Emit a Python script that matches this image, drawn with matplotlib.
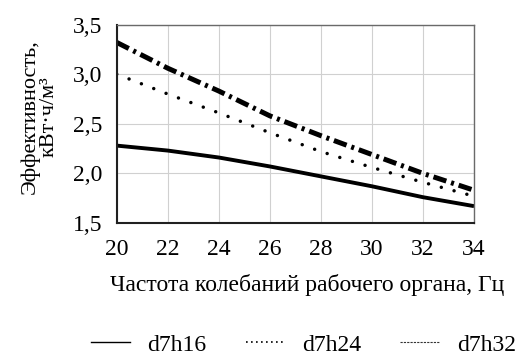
import matplotlib
matplotlib.use("Agg")
import matplotlib.pyplot as plt
from matplotlib.lines import Line2D

plt.rcParams['font.family'] = ['Liberation Serif', 'DejaVu Serif']
SERIF = ['Liberation Serif', 'DejaVu Serif']

freq = [20, 22, 24, 26, 28, 30, 32, 34]
d7h16 = [2.28, 2.23, 2.16, 2.07, 1.97, 1.87, 1.76, 1.67]
d7h24 = [3.00, 2.80, 2.61, 2.41, 2.22, 2.06, 1.91, 1.77]
d7h32 = [3.32, 3.06, 2.83, 2.58, 2.38, 2.19, 2.00, 1.83]
series_names = ['d7h16', 'd7h24', 'd7h32']
xticks = [20, 22, 24, 26, 28, 30, 32, 34]
yticks = [1.5, 2.0, 2.5, 3.0, 3.5]
ytick_labels = ['1,5', '2,0', '2,5', '3,0', '3,5']

fig = plt.figure(figsize=(5.19, 3.56), dpi=100)
ax = fig.add_axes([0.2249, 0.3736, 0.6884, 0.5574])

ax.plot(freq, d7h16, color='black', lw=2.8, solid_capstyle='butt')
ax.plot(freq, d7h24, color='black', lw=2.5, linestyle=(0, (0.01, 3.8)),
        dash_capstyle='round')
ax.plot(freq, d7h32, color='black', lw=3.6, linestyle=(0, (2.7, 1.0, 0.6, 1.0)),
        dash_capstyle='butt')

ax.set_xlim(20, 34)
ax.set_ylim(1.5, 3.5)
ax.set_xticks(xticks)
ax.set_xticklabels([str(v) for v in xticks], fontfamily=SERIF, fontsize=17)
ax.set_yticks(yticks)
ax.set_yticklabels(ytick_labels, fontfamily=SERIF, fontsize=17)
ax.tick_params(axis='both', length=0)
ax.tick_params(axis='x', pad=11.5)
ax.tick_params(axis='y', pad=10.5)
ax.grid(True, color='#d0d0d0', lw=0.8)
ax.set_axisbelow(True)
for s in ax.spines.values():
    s.set_color('#6a6a6a')
    s.set_linewidth(1.0)
ax.spines['left'].set_color('#202020')
ax.spines['left'].set_linewidth(1.5)
ax.spines['bottom'].set_color('#202020')
ax.spines['bottom'].set_linewidth(1.5)

fig.text(307/519, 1 - 285/356, 'Частота колебаний рабочего органа, Гц',
         ha='center', va='center', fontsize=17, fontfamily=SERIF)
fig.text(39/519, 1 - 117/356, 'Эффективность,\nкВт·ч/м³', rotation=90,
         ha='center', va='center', fontsize=16, multialignment='center',
         linespacing=1.0, fontfamily=SERIF)

handles = [
    Line2D([], [], color='black', lw=1.0),
    Line2D([], [], color='black', lw=1.2, linestyle=(0, (1, 2))),
    Line2D([], [], color='#333333', lw=0.8, linestyle=(0, (2, 1))),
]
fig.legend(handles, series_names, loc='center', bbox_to_anchor=(303.5/519, 1 - 345/356),
           ncol=3, frameon=False, fontsize=17, handlelength=1.65,
           columnspacing=1.65, handletextpad=0.75, borderpad=0.0,
           prop={'family': SERIF, 'size': 17})

fig.savefig('out.png', dpi=100)
